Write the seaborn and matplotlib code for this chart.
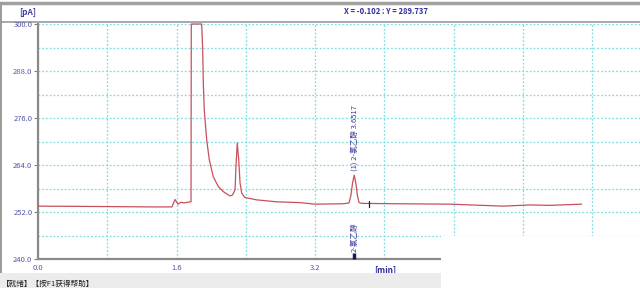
import numpy as np
import pandas as pd
import matplotlib
matplotlib.use("Agg")
import matplotlib.pyplot as plt
from matplotlib.lines import Line2D
from matplotlib.patches import Rectangle
import seaborn as sns

# ---- data ----
time_min = [0.000, 0.716, 1.293, 1.547, 1.582, 1.617, 1.651, 1.686, 1.755, 1.767,
            1.770, 1.890, 1.902, 1.909, 1.920, 1.948, 1.978, 2.024, 2.082, 2.140,
            2.217, 2.244, 2.275, 2.286, 2.301, 2.318, 2.333, 2.352, 2.390, 2.525,
            2.756, 3.025, 3.199, 3.522, 3.591, 3.614, 3.632, 3.652, 3.672, 3.689,
            3.707, 3.741, 4.180, 4.757, 5.370, 5.680, 5.910, 6.278]
signal_pA = [253.5, 253.4, 253.3, 253.3, 255.2, 254.0, 254.5, 254.3, 254.6, 254.6,
             300.0, 300.0, 293.3, 284.8, 278.0, 270.4, 265.3, 261.0, 258.5, 257.2,
             256.1, 256.3, 257.6, 263.6, 269.6, 265.3, 259.4, 256.8, 255.7, 255.1,
             254.6, 254.4, 254.0, 254.1, 254.3, 256.3, 259.4, 261.4, 259.1, 256.1,
             254.4, 254.2, 254.1, 254.0, 253.5, 253.8, 253.7, 254.0]

peak_time = [3.652]
peak_height = [261.4]
peak_label = ["(1) 2-氯乙醇 3.6517"]
compound_name = "2-氯乙醇"
cursor_marker_time = [3.82]
cursor_marker_level = [254.1]

y_major = [240, 252, 264, 276, 288, 300]
y_minor = [246, 258, 270, 282, 294]
x_major = [0.0, 1.6, 3.2]
x_minor = [0.8, 2.4, 4.0, 4.8, 5.6, 6.4]
header_text = "X = -0.102 : Y = 289.737"
status_text = "【就绪】【按F1获得帮助】"

sns.set_theme(style="white")
plt.rcParams['font.family'] = ['Noto Sans CJK SC', 'DejaVu Sans']

fig = plt.figure(figsize=(6.4, 2.88), dpi=100)
W, H = 640.0, 288.0
ax = fig.add_axes([38 / W, (H - 259) / H, (640 - 38) / W, (259 - 24) / H])
ax.set_zorder(1)
ax.patch.set_alpha(0)

df = pd.DataFrame({"t": time_min, "v": signal_pA})
sns.lineplot(data=df, x="t", y="v", ax=ax, sort=False, estimator=None,
             color="#c8505c", linewidth=0.9, clip_on=False, zorder=3)

ax.set_xlim(0, (640 - 38) / 86.6)
ax.set_ylim(240, 300)
ax.set_xlabel("")
ax.set_ylabel("")

lab_col = "#5656a8"
ax.set_yticks(y_major)
ax.set_yticklabels([f"{v:.1f}" for v in y_major])
ax.set_yticks(y_minor, minor=True)
ax.set_xticks(x_major)
ax.set_xticklabels([f"{v:.1f}" for v in x_major])
ax.set_xticks(x_minor, minor=True)
ax.tick_params(axis="y", which="major", length=3, width=0.8, color="#808080",
               labelsize=5.5, labelcolor=lab_col, pad=1, left=True)
ax.tick_params(axis="x", which="major", length=0, labelsize=5.5,
               labelcolor=lab_col, pad=3.5)
ax.tick_params(which="minor", length=0)

ax.grid(True, which="both", color="#7fdede", linestyle=(0, (1.5, 1.5)),
        linewidth=0.9, zorder=0)

for s in ["top", "right"]:
    ax.spines[s].set_visible(False)
for s in ["left", "bottom"]:
    ax.spines[s].set_color("#8a8a8a")
    ax.spines[s].set_linewidth(1.6)

# peak annotation
for t, h, lab in zip(peak_time, peak_height, peak_label):
    ax.text(t, h + 1.0, lab, rotation=90, ha="center", va="bottom",
            fontsize=5.5, color="#3a3aa0")
    ax.text(t, 241.8, compound_name, rotation=90, ha="center", va="bottom",
            fontsize=5.5, color="#3a3aa0")
    ax.plot([t, t], [240, 241.5], color="#1a1a60", linewidth=2.5,
            solid_capstyle="butt", zorder=4, clip_on=False)

for t, lv in zip(cursor_marker_time, cursor_marker_level):
    ax.plot([t, t], [lv - 0.8, lv + 0.8], color="#202020", linewidth=0.9, zorder=4)

# window decoration (drawn beneath the axes)
fig.add_artist(Line2D([0, 1], [1 - 3 / H, 1 - 3 / H], color="#a0a0a0",
                      linewidth=2.5, zorder=0))
fig.add_artist(Line2D([0, 1], [1 - 22 / H, 1 - 22 / H], color="#a8a8a8",
                      linewidth=1.4, zorder=0))
fig.add_artist(Line2D([1.2 / W, 1.2 / W], [1 - 273 / H, 1 - 3 / H], color="#9a9a9a",
                      linewidth=1.4, zorder=0))

fig.text(386 / W, 1 - 11 / H, header_text, ha="center", va="center",
         fontsize=5.5, color="#3030a0", fontweight="bold")
fig.text(28 / W, 1 - 12 / H, "[pA]", ha="center", va="center",
         fontsize=6, color="#4040a8", fontweight="bold")
fig.text(385 / W, 1 - 270 / H, "[min]", ha="center", va="center",
         fontsize=6, color="#2a2a90", fontweight="bold")

fig.patches.append(Rectangle((0, 0), 441 / W, 15 / H, transform=fig.transFigure,
                             facecolor="#ececec", edgecolor="none", zorder=5))
fig.text(2 / W, 1 - 283.5 / H, status_text, ha="left", va="center",
         fontsize=5.5, color="#202020", zorder=6)
fig.patches.append(Rectangle((441 / W, 0), 1 - 441 / W, (H - 236) / H,
                             transform=fig.transFigure, facecolor="white",
                             edgecolor="none", zorder=10))

fig.savefig("out.png", dpi=100)
